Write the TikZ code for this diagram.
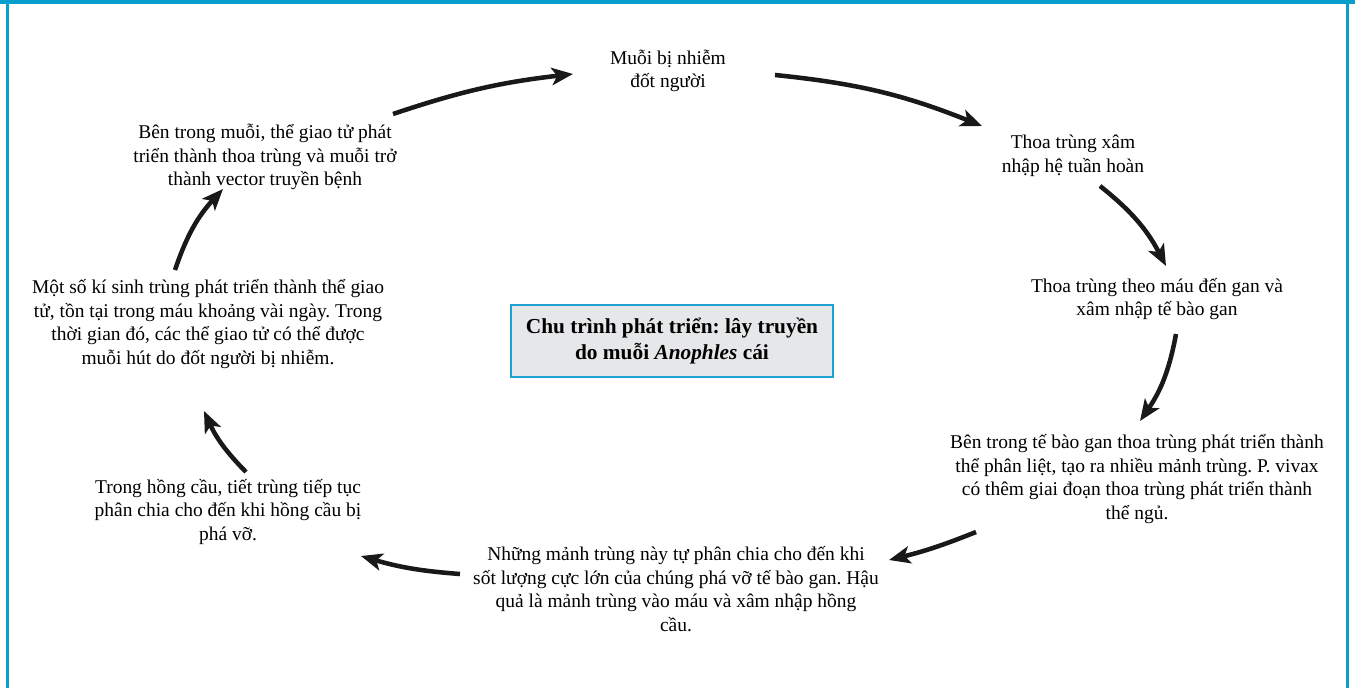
\documentclass[tikz,border=0pt]{standalone}
\usepackage{fontspec}
\setmainfont{Liberation Serif}
\usetikzlibrary{arrows.meta}
\definecolor{framecol}{RGB}{8,159,207}
\definecolor{boxfill}{RGB}{230,231,233}
\definecolor{boxline}{RGB}{33,161,211}
\frenchspacing
\begin{document}
\begin{tikzpicture}[x=0.75pt,y=-0.75pt,
  stage/.style={align=center,font=\fontsize{14.6}{17.8}\selectfont,inner sep=0pt},
  cyc/.style={line width=3.4pt,-{Stealth[length=16pt,width=13pt,inset=4pt]},black!90}]
\useasboundingbox (0,0) rectangle (1355,688);
% frame
\fill[framecol] (0,0) rectangle (1355,4.5);
\fill[framecol] (6,0) rectangle (8.5,688);
\fill[framecol] (1346,0) rectangle (1349,688);

% centre title
\node[draw=boxline,line width=1.5pt,fill=boxfill,minimum width=241pt,minimum height=54pt,
      align=center,font=\fontsize{16}{19.5}\selectfont\bfseries] (title) at (672,341)
  {Chu trình phát triển: lây truyền\\do muỗi \textit{Anophles} cái};

% stages
\node[stage] (s1) at (668,71) {Muỗi bị nhiễm\\đốt người};
\node[stage] (s2) at (1073,156) {Thoa trùng xâm\\nhập hệ tuần hoàn};
\node[stage] (s3) at (1157,299) {Thoa trùng theo máu đến gan và\\xâm nhập tế bào gan};
\node[stage] (s4) at (1137,479) {Bên trong tế bào gan thoa trùng phát triển thành\\thể phân liệt, tạo ra nhiều mảnh trùng. P. vivax\\có thêm giai đoạn thoa trùng phát triển thành\\thể ngủ.};
\node[stage] (s5) at (676,589) {Những mảnh trùng này tự phân chia cho đến khi\\sốt lượng cực lớn của chúng phá vỡ tế bào gan. Hậu\\quả là mảnh trùng vào máu và xâm nhập hồng\\cầu.};
\node[stage] (s6) at (228,512) {Trong hồng cầu, tiết trùng tiếp tục\\phân chia cho đến khi hồng cầu bị\\phá vỡ.};
\node[stage] (s7) at (208,324) {Một số kí sinh trùng phát triển thành thể giao\\tử, tồn tại trong máu khoảng vài ngày. Trong\\thời gian đó, các thể giao tử có thể được\\muỗi hút do đốt người bị nhiễm.};
\node[stage] (s8) at (265,157) {Bên trong muỗi, thể giao tử phát\\triển thành thoa trùng và muỗi trở\\thành vector truyền bệnh};

% arrow ends
\coordinate (a1s) at (393,114); \coordinate (a1e) at (573,74);
\coordinate (a2s) at (775,75);  \coordinate (a2e) at (982,126);
\coordinate (a3s) at (1100,186); \coordinate (a3e) at (1166,266);
\coordinate (a4s) at (1176,334); \coordinate (a4e) at (1140,421);
\coordinate (a5s) at (976,532); \coordinate (a5e) at (889,560);
\coordinate (a6s) at (460,574); \coordinate (a6e) at (361,556);
\coordinate (a7s) at (246,472); \coordinate (a7e) at (204,411);
\coordinate (a8s) at (175,270); \coordinate (a8e) at (223,189);

\draw[cyc] (a1s) to[bend left=6] (a1e);
\draw[cyc] (a2s) to[bend left=8] (a2e);
\draw[cyc] (a3s) to[bend left=12] (a3e);
\draw[cyc] (a4s) to[bend left=12] (a4e);
\draw[cyc] (a5s) to[bend left=4] (a5e);
\draw[cyc] (a6s) to[bend left=6] (a6e);
\draw[cyc] (a7s) to[bend left=10] (a7e);
\draw[cyc] (a8s) to[bend left=12] (a8e);
\end{tikzpicture}
\end{document}
